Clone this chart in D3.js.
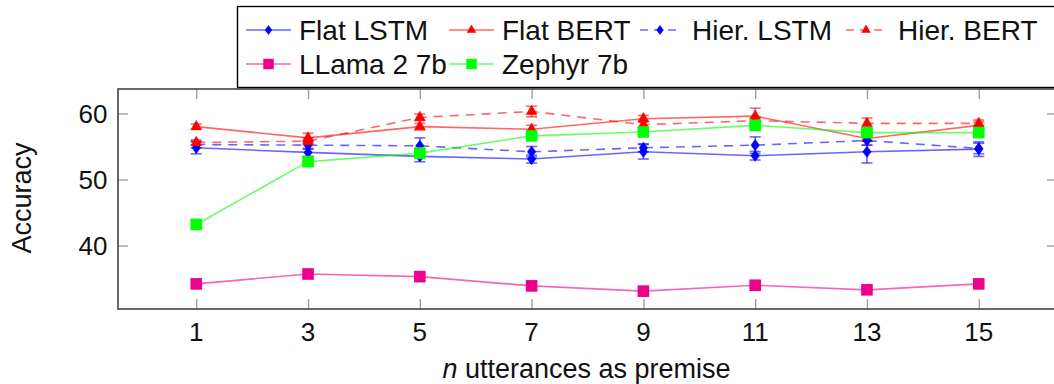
<!DOCTYPE html>
<html>
<head>
<meta charset="utf-8">
<script src="https://cdn.jsdelivr.net/npm/d3@7"></script>
<style>
  html, body { margin: 0; padding: 0; background: #fff; overflow: hidden; }
  svg { display: block; }
  text { font-family: "Liberation Sans", Arial, sans-serif; fill: #111; }
</style>
</head>
<body>
<svg id="chart" width="1054" height="384"></svg>
<script>
// ---- data ----
const nUtterances = [1, 3, 5, 7, 9, 11, 13, 15];
const flatLSTM    = [54.8, 54.1, 53.5, 53.1, 54.2, 53.6, 54.2, 54.6];
const flatLSTMErr = [0.9, 0.6, 0.8, 0.6, 1.1, 0.65, 1.7, 1.1];
const flatBERT    = [58.0, 56.3, 58.0, 57.6, 59.2, 59.6, 56.2, 58.2];
const flatBERTErr = [0.4, 0.7, 0.5, 0.6, 0.5, 1.2, 1.0, 0.5];
const hierLSTM    = [55.3, 55.2, 55.1, 54.2, 54.8, 55.2, 55.9, 54.7];
const hierLSTMErr = [0.5, 0.6, 1.2, 0.8, 0.6, 1.25, 0.7, 0.8];
const hierBERT    = [55.6, 55.8, 59.4, 60.3, 58.3, 58.9, 58.5, 58.5];
const hierBERTErr = [0.4, 0.5, 0.5, 0.8, 0.5, 0.5, 0.8, 0.5];
const llama2      = [34.2, 35.7, 35.3, 33.9, 33.1, 34.0, 33.3, 34.2];
const zephyr      = [43.2, 52.7, 54.0, 56.6, 57.2, 58.2, 57.1, 57.1];
const yTicks = [40, 50, 60];
const xLabel = "utterances as premise";
const yLabel = "Accuracy";

const series = [
  { name: "Flat LSTM",   values: flatLSTM, err: flatLSTMErr, color: "#0000ff", marker: "diamond",  dashed: false },
  { name: "Flat BERT",   values: flatBERT, err: flatBERTErr, color: "#ff0000", marker: "triangle", dashed: false },
  { name: "Hier. LSTM",  values: hierLSTM, err: hierLSTMErr, color: "#0000ff", marker: "diamond",  dashed: true },
  { name: "Hier. BERT",  values: hierBERT, err: hierBERTErr, color: "#ff0000", marker: "triangle", dashed: true },
  { name: "LLama 2 7b",  values: llama2,   err: null,        color: "#ec008c", marker: "square",   dashed: false },
  { name: "Zephyr 7b",   values: zephyr,   err: null,        color: "#00ff00", marker: "square",   dashed: false }
];

// ---- layout ----
const L = 118, R = 1057, T = 89, B = 309;
const svg = d3.select("#chart");
const x = d3.scaleLinear().domain([-0.4, 16.4]).range([L, R]);
const y = d3.scaleLinear().domain([30.4, 63.7]).range([B, T]);

const tickLen = 10;
const tickColor = "#a0a0a0";

// ticks (inward, both sides) using axes
const axB = svg.append("g").attr("transform", `translate(0,${B})`)
  .call(d3.axisTop(x).tickValues(nUtterances).tickSize(tickLen).tickFormat(""));
const axT = svg.append("g").attr("transform", `translate(0,${T})`)
  .call(d3.axisBottom(x).tickValues(nUtterances).tickSize(tickLen).tickFormat(""));
const axL = svg.append("g").attr("transform", `translate(${L},0)`)
  .call(d3.axisRight(y).tickValues(yTicks).tickSize(tickLen).tickFormat(""));
const axR = svg.append("g").attr("transform", `translate(${R},0)`)
  .call(d3.axisLeft(y).tickValues(yTicks).tickSize(tickLen).tickFormat(""));
[axB, axT, axL, axR].forEach(a => {
  a.select(".domain").remove();
  a.selectAll(".tick line").attr("stroke", tickColor).attr("stroke-width", 1.4);
});

// tick labels
svg.append("g").selectAll("text").data(nUtterances).join("text")
  .attr("x", d => x(d)).attr("y", 341)
  .attr("text-anchor", "middle").attr("font-size", 26)
  .text(d => d);
svg.append("g").selectAll("text").data(yTicks).join("text")
  .attr("x", 107.5).attr("y", d => y(d) + 9.5)
  .attr("text-anchor", "end").attr("font-size", 26)
  .text(d => d);

// axis labels
const xl = svg.append("text").attr("x", (L + R) / 2 - 1).attr("y", 378)
  .attr("text-anchor", "middle").attr("font-size", 27);
xl.append("tspan").attr("font-style", "italic").text("n");
xl.append("tspan").text(" " + xLabel);
svg.append("text").attr("transform", `translate(31,${198}) rotate(-90)`)
  .attr("text-anchor", "middle").attr("font-size", 27).text(yLabel);

// marker drawing
function drawMarker(g, type, cx, cy, color, s) {
  if (type === "diamond") {
    const w = 4.2 * s, h = 5.6 * s;
    g.append("path").attr("d", `M${cx},${cy - h}L${cx + w},${cy}L${cx},${cy + h}L${cx - w},${cy}Z`)
      .attr("fill", color).attr("stroke", color).attr("stroke-width", 0.6);
  } else if (type === "triangle") {
    const r = 6.2 * s;
    g.append("path").attr("d", `M${cx},${cy - r}L${cx + r * 0.866},${cy + r * 0.5}L${cx - r * 0.866},${cy + r * 0.5}Z`)
      .attr("fill", color).attr("stroke", color).attr("stroke-width", 0.6);
  } else {
    const h = 5.8 * s;
    g.append("rect").attr("x", cx - h).attr("y", cy - h).attr("width", 2 * h).attr("height", 2 * h)
      .attr("fill", color);
  }
}

const line = d3.line().x((d, i) => x(nUtterances[i])).y(d => y(d));
const dash = "9,7";
const lineOpacity = 0.6;

// series
series.forEach(s => {
  const g = svg.append("g");
  g.append("path").datum(s.values).attr("d", line)
    .attr("fill", "none").attr("stroke", s.color).attr("stroke-opacity", lineOpacity)
    .attr("stroke-width", 1.6).attr("stroke-dasharray", s.dashed ? dash : null);
  if (s.err) {
    s.values.forEach((v, i) => {
      const cx = x(nUtterances[i]), y0 = y(v - s.err[i]), y1 = y(v + s.err[i]);
      const eg = g.append("g").attr("stroke", s.color).attr("stroke-opacity", lineOpacity).attr("stroke-width", 1.6);
      eg.append("line").attr("x1", cx).attr("x2", cx).attr("y1", y0).attr("y2", y1);
      eg.append("line").attr("x1", cx - 5.5).attr("x2", cx + 5.5).attr("y1", y0).attr("y2", y0);
      eg.append("line").attr("x1", cx - 5.5).attr("x2", cx + 5.5).attr("y1", y1).attr("y2", y1);
    });
  }
  s.values.forEach((v, i) => drawMarker(g, s.marker, x(nUtterances[i]), y(v), s.color, 1));
});

// frame
svg.append("rect").attr("x", L).attr("y", T).attr("width", R - L).attr("height", B - T)
  .attr("fill", "none").attr("stroke", "#444").attr("stroke-width", 1.6);

// legend
const lg = svg.append("g");
lg.append("rect").attr("x", 237.5).attr("y", 6.5).attr("width", 830).attr("height", 81)
  .attr("fill", "#fff").attr("stroke", "#000").attr("stroke-width", 1.4);
const colX = [246, 449, 640, 846];
const rowY = [30, 64];
series.forEach((s, i) => {
  const col = i % 4, row = Math.floor(i / 4);
  const x0 = colX[col], cy = rowY[row];
  const len = s.dashed ? 40 : 45;
  lg.append("line").attr("x1", x0).attr("x2", x0 + len).attr("y1", cy).attr("y2", cy)
    .attr("stroke", s.color).attr("stroke-opacity", lineOpacity).attr("stroke-width", 1.6)
    .attr("stroke-dasharray", s.dashed ? "8,6" : null);
  drawMarker(lg, s.marker, x0 + len / 2, cy, s.color, s.marker === "square" ? 0.9 : 0.8);
  lg.append("text").attr("x", x0 + len + (s.dashed ? 12 : 8)).attr("y", cy + 9.5)
    .attr("font-size", 28).text(s.name);
});
</script>
</body>
</html>
